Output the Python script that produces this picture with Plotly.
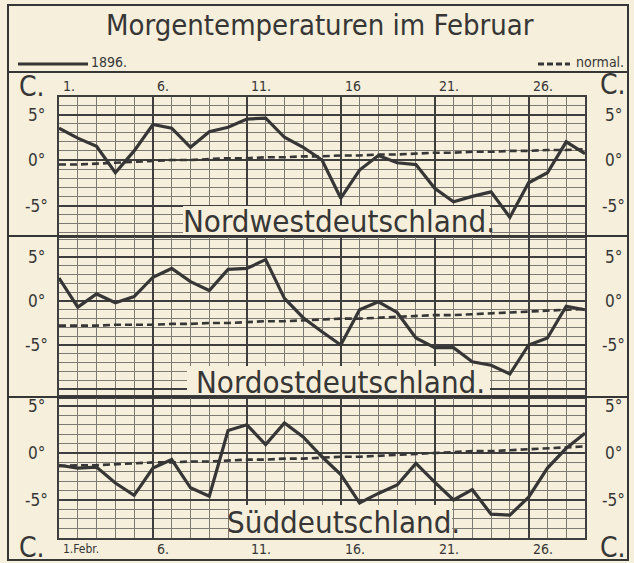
import plotly.graph_objects as go

# Days of February 1896 (leap year)
days = list(range(1, 30))

# Morning temperatures 1896 (deg C) and long-term normals
nordwest_1896 = [3.5, 2.4, 1.5, -1.4, 1.0, 3.9, 3.5, 1.4, 3.1, 3.6, 4.5, 4.6, 2.5, 1.4, 0.0,
                 -4.2, -1.1, 0.5, -0.3, -0.5, -3.1, -4.6, -4.0, -3.5, -6.3, -2.5, -1.4, 2.0, 0.7]
nordwest_normal = [-0.5, -0.5, -0.4, -0.3, -0.2, -0.1, 0.0, 0.0, 0.1, 0.2, 0.2, 0.3, 0.3, 0.4, 0.4,
                   0.5, 0.5, 0.6, 0.6, 0.7, 0.8, 0.8, 0.9, 0.9, 1.0, 1.0, 1.1, 1.1, 1.2]

nordost_1896 = [2.6, -0.7, 0.8, -0.2, 0.5, 2.7, 3.7, 2.2, 1.2, 3.6, 3.7, 4.7, 0.3, -1.9, -3.5,
                -5.0, -1.0, -0.1, -1.3, -4.2, -5.3, -5.3, -6.9, -7.3, -8.3, -5.0, -4.2, -0.6, -1.0]
nordost_normal = [-2.8, -2.8, -2.8, -2.7, -2.7, -2.7, -2.6, -2.6, -2.5, -2.5, -2.4, -2.3, -2.3, -2.2, -2.1,
                  -2.0, -2.0, -1.9, -1.8, -1.7, -1.6, -1.6, -1.5, -1.4, -1.3, -1.2, -1.1, -1.0, -0.9]

sued_1896 = [-1.3, -1.6, -1.5, -3.2, -4.5, -1.6, -0.7, -3.7, -4.6, 2.4, 3.0, 0.9, 3.2, 1.7, -0.4,
             -2.3, -5.3, -4.3, -3.4, -1.1, -3.1, -5.0, -3.9, -6.5, -6.6, -4.7, -1.6, 0.5, 2.1]
sued_normal = [-1.4, -1.3, -1.3, -1.2, -1.1, -1.0, -1.0, -0.9, -0.9, -0.8, -0.7, -0.7, -0.6, -0.6, -0.5,
               -0.4, -0.4, -0.3, -0.2, -0.1, 0.0, 0.1, 0.2, 0.2, 0.3, 0.4, 0.5, 0.6, 0.7]

region_names = ["Nordwestdeutschland.", "Nordostdeutschland.", "Süddeutschland."]
day_labels_top = ["1.", "6.", "11.", "16", "21.", "26."]
day_labels_bottom = ["1.Febr.", "6.", "11.", "16.", "21.", "26."]
label_days = [1, 6, 11, 16, 21, 26]
deg_values = [5, 0, -5]
deg_labels = ["5°", "0°", "-5°"]

# ---- page geometry (pixels) ----
W, H = 634, 563
BG = "#f6efdb"
INK = "#363636"
GRID_MINOR = "#7c7a72"
GRID_MAJOR = "#3e3e3e"
FONT = "Liberation Sans Narrow, DejaVu Sans Condensed, Liberation Sans, sans-serif"


def px(x):
    return x / W


def py(y):
    return 1 - y / H


GRID_L, GRID_R = 59, 585
# per panel: pixel of 0 deg, pixels per degree, top and bottom pixel of grid
panels = [
    dict(zero=160, scale=9.1, top=97, bottom=236, series=nordwest_1896, normal=nordwest_normal,
         box=(183, 490, 206, 236), text_y=221),
    dict(zero=301, scale=8.8, top=237, bottom=397, series=nordost_1896, normal=nordost_normal,
         box=(187, 490, 366, 397), text_y=382),
    dict(zero=453, scale=9.4, top=397, bottom=538, series=sued_1896, normal=sued_normal,
         box=(230, 452, 505, 538), text_y=522),
]

day_px = (GRID_R - GRID_L) / 28.0


def xdata(xpix):
    return 1 + (xpix - GRID_L) / day_px


def label(text, x, y, size, xref="paper", yref="paper", xanchor="center", **kw):
    return dict(text=text, xref=xref, yref=yref, x=x, y=y, xanchor=xanchor, yanchor="middle",
                showarrow=False, font=dict(family=FONT, size=size, color=INK), **kw)


fig = go.Figure()
layout = dict(
    width=W, height=H, margin=dict(l=0, r=0, t=0, b=0),
    paper_bgcolor=BG, plot_bgcolor=BG, showlegend=False,
)

shapes = []
annotations = []

for i, p in enumerate(panels):
    n = "" if i == 0 else str(i + 1)
    xa, ya = "x" + n, "y" + n
    ymin = (p["zero"] - p["bottom"]) / p["scale"]
    ymax = (p["zero"] - p["top"]) / p["scale"]

    layout["xaxis" + n] = dict(
        domain=[px(GRID_L), px(GRID_R)], range=[1, 29], anchor=ya,
        tick0=1, dtick=5, showgrid=True, gridcolor=GRID_MAJOR, gridwidth=1.8,
        minor=dict(tick0=1, dtick=1, showgrid=True, gridcolor=GRID_MINOR, gridwidth=0.9),
        showticklabels=False, ticks="", zeroline=False,
        showline=True, mirror=True, linecolor=GRID_MAJOR, linewidth=2,
    )
    layout["yaxis" + n] = dict(
        domain=[py(p["bottom"]), py(p["top"])], range=[ymin, ymax], anchor=xa,
        tick0=0, dtick=5, showgrid=True, gridcolor=GRID_MAJOR, gridwidth=1.8,
        minor=dict(tick0=0, dtick=1, showgrid=True, gridcolor=GRID_MINOR, gridwidth=0.9),
        showticklabels=False, ticks="", zeroline=False,
        showline=True, mirror=True, linecolor=GRID_MAJOR, linewidth=2,
    )

    fig.add_trace(go.Scatter(x=days, y=p["normal"], xaxis=xa, yaxis=ya, mode="lines",
                             line=dict(color=INK, width=2.6, dash="7px,4px")))
    fig.add_trace(go.Scatter(x=days, y=p["series"], xaxis=xa, yaxis=ya, mode="lines",
                             line=dict(color=INK, width=3.2)))

    # blank panel behind the region name
    bx0, bx1, by0, by1 = p["box"]
    shapes.append(dict(type="rect", xref=xa, yref=ya, layer="between",
                       x0=xdata(bx0), x1=xdata(bx1),
                       y0=(p["zero"] - by1) / p["scale"], y1=(p["zero"] - by0) / p["scale"],
                       fillcolor=BG, line=dict(width=0)))
    annotations.append(label(region_names[i], px((bx0 + bx1) / 2 + 2), py(p["text_y"]), 31))

    # degree labels on both sides
    for v, t in zip(deg_values, deg_labels):
        for xx in (36, 613):
            annotations.append(label(t, px(xx), v, 17, yref=ya))

# day labels along top and bottom
for d, t in zip(label_days, day_labels_top):
    annotations.append(label(t, d, py(86), 14, xref="x", xanchor="left", xshift=2))
for d, t in zip(label_days, day_labels_bottom):
    annotations.append(label(t, d, py(549), 12 if d == 1 else 14, xref="x3", xanchor="left", xshift=2))

# unit marks in the corners
for xx, yy in ((32, 86), (613, 84), (32, 547), (613, 547)):
    annotations.append(label("C.", px(xx), py(yy), 28))

# title and legend
annotations.append(label("Morgentemperaturen im Februar", px(320), py(25), 29))
annotations.append(label("1896.", px(89), py(62), 14, xanchor="left"))
annotations.append(label("normal.", px(626), py(62), 14, xanchor="right"))
shapes.append(dict(type="line", xref="paper", yref="paper", x0=px(18), x1=px(88),
                   y0=py(64), y1=py(64), line=dict(color=INK, width=3)))
shapes.append(dict(type="line", xref="paper", yref="paper", x0=px(538), x1=px(570),
                   y0=py(64), y1=py(64), line=dict(color=INK, width=3, dash="6px,3px")))

# frame, header rule and panel separators
shapes.append(dict(type="rect", xref="paper", yref="paper", x0=px(8), x1=px(628),
                   y0=py(560), y1=py(5), line=dict(color=INK, width=2)))
shapes.append(dict(type="line", xref="paper", yref="paper", x0=px(8), x1=px(628),
                   y0=py(72), y1=py(72), line=dict(color=INK, width=2)))
for yy in (236, 397):
    shapes.append(dict(type="line", xref="paper", yref="paper", x0=px(8), x1=px(628),
                       y0=py(yy), y1=py(yy), line=dict(color=INK, width=2)))

layout["shapes"] = shapes
layout["annotations"] = annotations
fig.update_layout(**layout)
fig.write_html("out.html")
